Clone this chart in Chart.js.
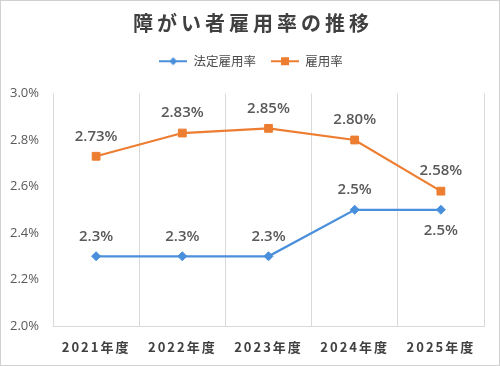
<!DOCTYPE html>
<html>
<head>
<meta charset="utf-8">
<script src="https://cdn.jsdelivr.net/npm/chart.js@4"></script>
<style>
    html, body { margin: 0; padding: 0; background: #fff; }
    #wrap { width: 500px; height: 366px; }
</style>
</head>
<body>
<div id="wrap"><canvas id="chartCanvas" width="500" height="366"></canvas></div>
<script>
const years = ['2021年度', '2022年度', '2023年度', '2024年度', '2025年度'];
const legalRate = [2.3, 2.3, 2.3, 2.5, 2.5];
const employRate = [2.73, 2.83, 2.85, 2.80, 2.58];
const legalLabelBelow = [false, false, false, false, true];
const employLabelBelow = [false, false, false, false, false];

const titleText = '障がい者雇用率の推移';
const BLUE = '#4A8FDB';
const ORANGE = '#ED7D31';
const JP = '"Noto Sans CJK JP", "Noto Sans", sans-serif';
const NUM = '"Open Sans", "Noto Sans", sans-serif';

function legendIcon(color, shape) {
    const c = document.createElement('canvas');
    c.width = 28;
    c.height = 12;
    const g = c.getContext('2d');
    g.strokeStyle = color;
    g.lineWidth = 2;
    g.beginPath();
    g.moveTo(0, 6);
    g.lineTo(28, 6);
    g.stroke();
    g.fillStyle = color;
    if (shape === 'diamond') {
        g.beginPath();
        g.moveTo(14, 2);
        g.lineTo(18, 6);
        g.lineTo(14, 10);
        g.lineTo(10, 6);
        g.closePath();
        g.fill();
    } else {
        g.fillRect(10, 2, 8, 8);
    }
    return c;
}
const icons = [legendIcon(BLUE, 'diamond'), legendIcon(ORANGE, 'square')];

// extra space below the legend, title, frame, value labels, spaced x labels
const decor = {
    id: 'decor',
    beforeInit(chart) {
        const fit = chart.legend.fit;
        chart.legend.fit = function () {
            fit.bind(chart.legend)();
            this.height += 16;
        };
    },
    afterLayout(chart) {
        // legend is centred over the whole frame, not the padded box
        chart.legend.left += 9;
        chart.legend.right += 9;
    },
    afterDatasetsDraw(chart) {
        chart.ctx.letterSpacing = '2px';
    },
    afterDraw(chart) {
        const ctx = chart.ctx;
        ctx.save();
        ctx.letterSpacing = '0px';

        ctx.strokeStyle = '#d0d0d0';
        ctx.lineWidth = 1;
        ctx.strokeRect(0.5, 0.5, 499, 365);

        ctx.textAlign = 'center';
        ctx.textBaseline = 'middle';
        chart.data.datasets.forEach((ds, i) => {
            const meta = chart.getDatasetMeta(i);
            ctx.font = '600 15px ' + NUM;
            ctx.fillStyle = '#595959';
            meta.data.forEach((pt, j) => {
                const below = ds.labelBelow[j];
                const txt = ds.data[j].toFixed(ds.digits) + '%';
                ctx.fillText(txt, pt.x, below ? pt.y + 21 : pt.y - 20);
            });
        });

        ctx.letterSpacing = '4px';
        ctx.font = 'bold 20px ' + JP;
        ctx.fillStyle = '#404040';
        ctx.fillText(titleText, 253, 23);
        ctx.restore();
    }
};

const ctx = document.getElementById('chartCanvas').getContext('2d');
new Chart(ctx, {
    type: 'line',
    data: {
        labels: years,
        datasets: [{
            label: '法定雇用率',
            data: legalRate,
            digits: 1,
            labelBelow: legalLabelBelow,
            borderColor: BLUE,
            backgroundColor: BLUE,
            borderWidth: 2.25,
            pointStyle: 'rectRot',
            pointRadius: 4.5,
            pointBorderWidth: 1,
            tension: 0
        }, {
            label: '雇用率',
            data: employRate,
            digits: 2,
            labelBelow: employLabelBelow,
            borderColor: ORANGE,
            backgroundColor: ORANGE,
            borderWidth: 2.25,
            pointStyle: 'rect',
            pointRadius: 5.5,
            pointBorderWidth: 1,
            tension: 0
        }]
    },
    options: {
        responsive: false,
        animation: false,
        layout: { padding: { top: 40, right: 16, left: 0, bottom: 0 } },
        plugins: {
            title: { display: false },
            tooltip: { enabled: false },
            legend: {
                display: true,
                position: 'top',
                labels: {
                    usePointStyle: true,
                    pointStyleWidth: 28,
                    padding: 15,
                    color: '#4a4a4a',
                    font: { size: 12.5, family: JP },
                    generateLabels(chart) {
                        const items = Chart.defaults.plugins.legend.labels.generateLabels(chart);
                        items.forEach((it, i) => { it.pointStyle = icons[i]; });
                        return items;
                    }
                }
            }
        },
        scales: {
            x: {
                offset: true,
                grid: { display: true, color: '#d9d9d9', drawTicks: false, offset: true },
                border: { display: true, color: '#d9d9d9' },
                ticks: {
                    z: 1,
                    padding: 13,
                    color: '#404040',
                    font: { size: 13, weight: 'bold', family: JP }
                },
                afterFit(scale) { scale.height = 40; }
            },
            y: {
                min: 2.0,
                max: 3.0,
                grid: { display: false, drawTicks: false },
                border: { display: false },
                ticks: {
                    stepSize: 0.2,
                    padding: 14,
                    color: '#595959',
                    font: { size: 13, family: NUM },
                    callback: (v) => v.toFixed(1) + '%'
                },
                afterFit(scale) { scale.width = 53; }
            }
        }
    },
    plugins: [decor]
});
</script>
</body>
</html>
